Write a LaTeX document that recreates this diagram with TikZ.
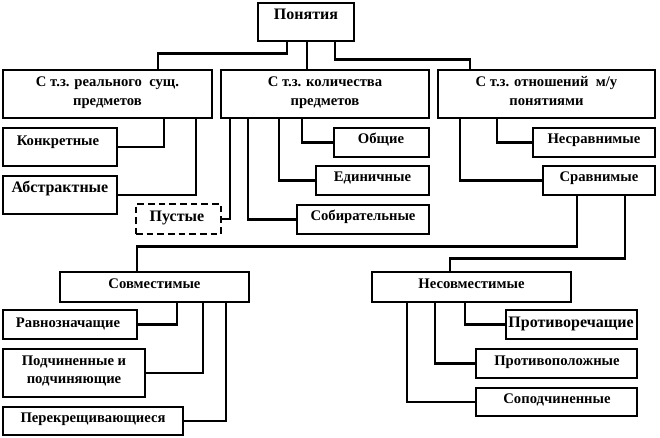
\documentclass[tikz,border=0pt]{standalone}
\usepackage{fontspec}
\setmainfont{Liberation Serif}
\usetikzlibrary{fit}
\begin{document}
\begin{tikzpicture}[x=0.75pt,y=-0.75pt,
  thickbox/.style={draw=black,line width=2pt,inner sep=0pt},
  thinbox/.style={draw=black,line width=0.8pt,inner sep=0pt},
  dashbox/.style={draw=black,line width=1.6pt,dashed,dash pattern=on 5pt off 3pt,inner sep=0pt},
  conn/.style={draw=black,line width=2.1pt},
  txt/.style={inner sep=0pt,anchor=base,font=\fontsize{12}{14}\bfseries},
  htxt/.style={inner sep=0pt,anchor=base,font=\fontsize{11}{13}\bfseries},
  stxt/.style={inner sep=0pt,anchor=base,font=\fontsize{11}{13}\bfseries}]
\useasboundingbox (0,0) rectangle (660,438);
% boxes
\node[thickbox,fit={(258,3)(354,41)}] (pon) {};
\node[thickbox,fit={(3,70)(212,118)}] (la) {};
\node[thickbox,fit={(221,70)(429,118)}] (lb) {};
\node[thickbox,fit={(438,70)(655,118)}] (lc) {};
\node[thinbox,fit={(3,128)(117,166)}] (konk) {};
\node[thinbox,fit={(3,176)(117,214)}] (abst) {};
\node[dashbox,fit={(136,204)(221,234)}] (pust) {};
\node[thinbox,fit={(334,128)(429,157)}] (obsh) {};
\node[thinbox,fit={(316,166)(429,195)}] (edin) {};
\node[thinbox,fit={(297,205)(429,234)}] (sobir) {};
\node[thinbox,fit={(533,128)(655,157)}] (nesr) {};
\node[thinbox,fit={(543,166)(655,195)}] (srav) {};
\node[thinbox,fit={(60,272)(249,302)}] (sovm) {};
\node[thinbox,fit={(372,272)(571,302)}] (nesov) {};
\node[thinbox,fit={(3,310)(137,339)}] (ravn) {};
\node[thinbox,fit={(3,349)(145,397)}] (podch) {};
\node[thinbox,fit={(3,407)(183,435)}] (perek) {};
\node[thinbox,fit={(506,310)(637,339)}] (protr) {};
\node[thinbox,fit={(476,349)(637,378)}] (protp) {};
\node[thinbox,fit={(476,388)(637,416)}] (sopod) {};
% texts
\node[txt] (tpon) at (306,20) {Понятия};
\node[htxt] (tla1) at (107.5,87) {С т.з. реального\ \ сущ.};
\node[htxt] (tla2) at (107.5,106) {предметов};
\node[htxt] (tlb1) at (325,87) {С т.з. количества};
\node[htxt] (tlb2) at (325,106) {предметов};
\node[htxt] (tlc1) at (546.5,87) {С т.з. отношений\ \ м/у};
\node[htxt] (tlc2) at (546.5,106) {понятиями};
\node[stxt] (tkonk) at (58,146) {Конкретные};
\node[txt] (tabst) at (60,193) {Абстрактные};
\node[txt] (tpust) at (177,222) {Пустые};
\node[stxt] (tobsh) at (381,143.5) {Общие};
\node[stxt] (tedin) at (372.5,182) {Единичные};
\node[stxt] (tsobir) at (363,221) {Собирательные};
\node[stxt] (tnesr) at (594,144) {Несравнимые};
\node[stxt] (tsrav) at (599,182) {Сравнимые};
\node[stxt] (tsovm) at (154.5,288) {Совместимые};
\node[stxt] (tnesov) at (471.5,288) {Несовместимые};
\node[stxt] (travn) at (68,327) {Равнозначащие};
\node[stxt] (tpodch1) at (74,365) {Подчиненные и};
\node[stxt] (tpodch2) at (74,383) {подчиняющие};
\node[stxt] (tperek) at (93,422) {Перекрещивающиеся};
\node[txt] (tprotr) at (571,327.5) {Противоречащие};
\node[stxt] (tprotp) at (557,365) {Противоположные};
\node[stxt] (tsopod) at (557,403.5) {Соподчиненные};
% connectors
\draw[conn] (pon.south -| 287,0) -- ++(0,11) -| (la.north -| 158,0);
\draw[conn] (pon.south -| 307,0) -- (lb.north -| 307,0);
\draw[conn] (pon.south -| 335,0) -- ++(0,17) -| (lc.north -| 470,0);
\draw[conn] (la.south -| 164,0) |- (konk.east);
\draw[conn] (la.south -| 196,0) |- (abst.east);
\draw[conn] (lb.south -| 230,0) |- (pust.east);
\draw[conn] (lb.south -| 302,0) |- (obsh.west);
\draw[conn] (lb.south -| 279,0) |- (edin.west);
\draw[conn] (lb.south -| 248,0) |- (sobir.west);
\draw[conn] (lc.south -| 497,0) |- (nesr.west);
\draw[conn] (lc.south -| 460,0) |- (srav.west);
\draw[conn] (srav.south -| 577,0) -- ++(0,51) -| (sovm.north -| 137,0);
\draw[conn] (srav.south -| 625,0) -- ++(0,63) -| (nesov.north -| 450,0);
\draw[conn] (sovm.south -| 177,0) |- (ravn.east);
\draw[conn] (sovm.south -| 203,0) |- (podch.east);
\draw[conn] (sovm.south -| 226,0) |- (perek.east);
\draw[conn] (nesov.south -| 465,0) |- (protr.west);
\draw[conn] (nesov.south -| 435,0) |- (protp.west);
\draw[conn] (nesov.south -| 407,0) |- (sopod.west);
\end{tikzpicture}
\end{document}
